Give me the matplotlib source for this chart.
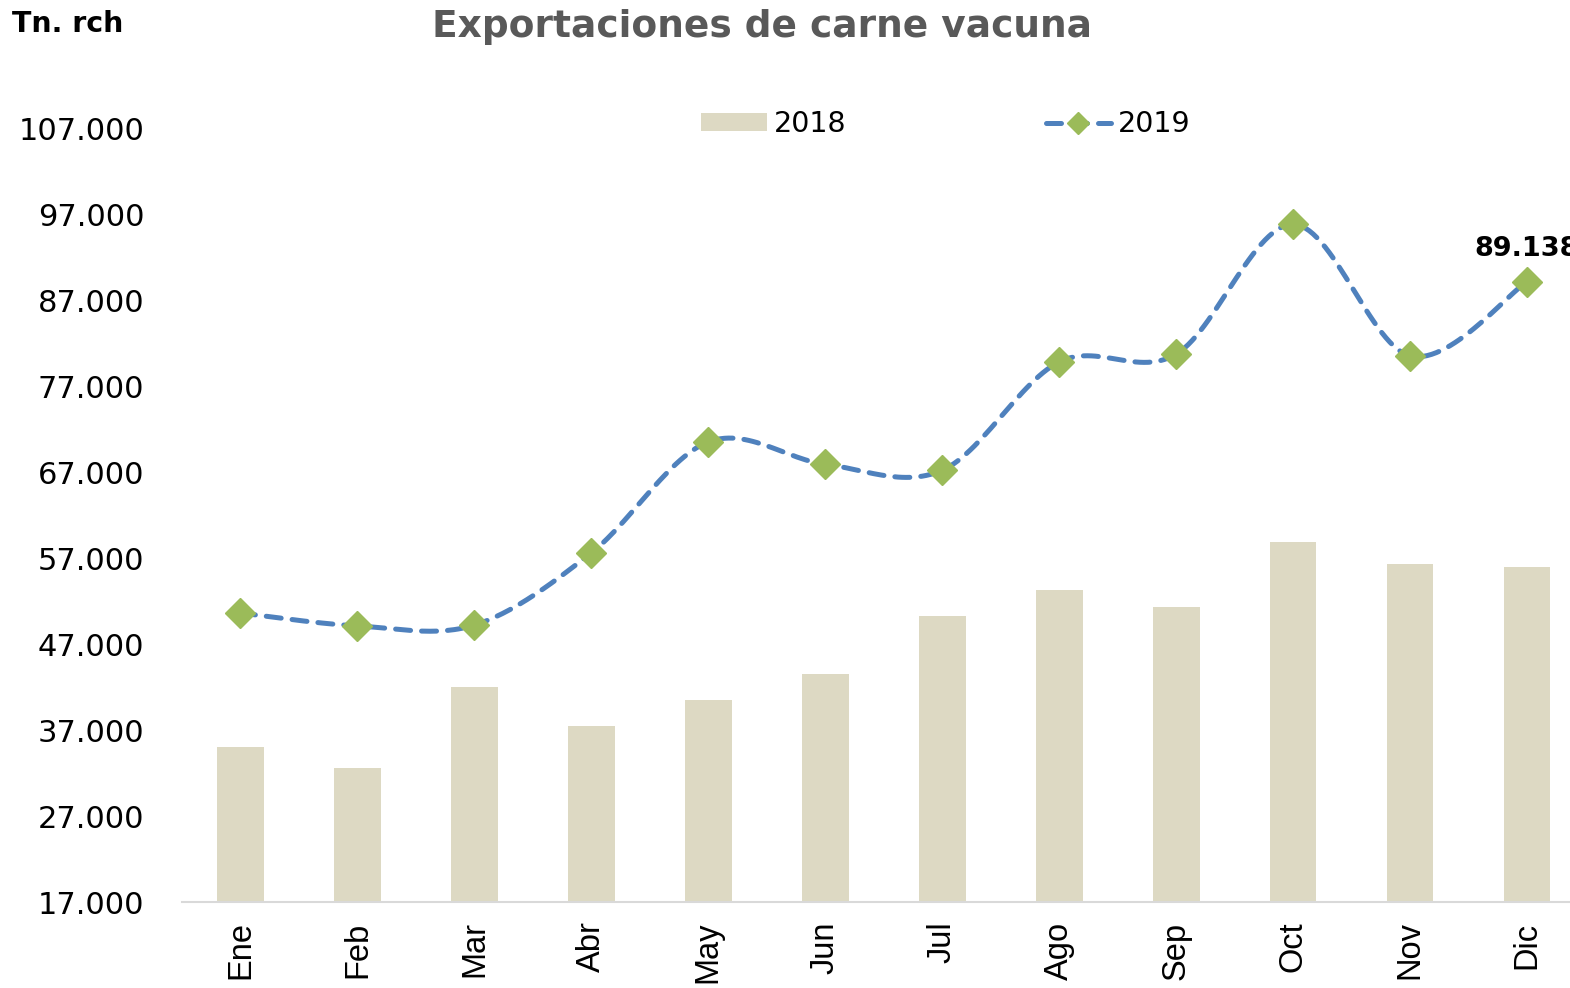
import numpy as np
import matplotlib
matplotlib.use("Agg")
import matplotlib.pyplot as plt
from matplotlib.patches import Patch
from matplotlib.lines import Line2D

# data (toneladas res con hueso)
months = ["Ene", "Feb", "Mar", "Abr", "May", "Jun", "Jul", "Ago", "Sep", "Oct", "Nov", "Dic"]
exp_2018 = [35000, 32600, 42000, 37500, 40500, 43500, 50300, 53300, 51300, 58900, 56300, 56000]
exp_2019 = [50600, 49100, 49200, 57600, 70500, 67900, 67200, 79800, 80700, 95800, 80500, 89138]
y_ticks = [17000, 27000, 37000, 47000, 57000, 67000, 77000, 87000, 97000, 107000]

BAR_COLOR = "#DDD9C3"
LINE_COLOR = "#4F81BD"
MARKER_COLOR = "#9BBB59"
FONT = "DejaVu Sans"


def smooth(xs, ys, n=30):
    """Excel-like smoothed line: cubic bezier with catmull-rom control points"""
    xs = np.asarray(xs, float)
    ys = np.asarray(ys, float)
    px = np.concatenate([[xs[0]], xs, [xs[-1]]])
    py = np.concatenate([[ys[0]], ys, [ys[-1]]])
    out_x, out_y = [], []
    t = np.linspace(0, 1, n)
    for i in range(1, len(px) - 2):
        p0x, p1x, p2x, p3x = px[i - 1], px[i], px[i + 1], px[i + 2]
        p0y, p1y, p2y, p3y = py[i - 1], py[i], py[i + 1], py[i + 2]
        c1x = p1x + (p2x - p0x) / 6
        c1y = p1y + (p2y - p0y) / 6
        c2x = p2x - (p3x - p1x) / 6
        c2y = p2y - (p3y - p1y) / 6
        bx = (1 - t) ** 3 * p1x + 3 * (1 - t) ** 2 * t * c1x + 3 * (1 - t) * t ** 2 * c2x + t ** 3 * p2x
        by = (1 - t) ** 3 * p1y + 3 * (1 - t) ** 2 * t * c1y + 3 * (1 - t) * t ** 2 * c2y + t ** 3 * p2y
        out_x.extend(bx)
        out_y.extend(by)
    return np.array(out_x), np.array(out_y)


fig = plt.figure(figsize=(15.7, 9.88), dpi=100)
fig.patch.set_facecolor("white")
ax = fig.add_axes([182 / 1570, 86 / 988, 1403.5 / 1570, 774 / 988])

x = np.arange(len(months))
ax.bar(x, exp_2018, width=0.4, color=BAR_COLOR, zorder=2)

sx, sy = smooth(x, exp_2019)
ax.plot(sx, sy, color=LINE_COLOR, lw=3.6, dashes=(3, 2.2),
        dash_capstyle="round", zorder=3)
ax.plot(x, exp_2019, linestyle="none", marker="D", ms=15,
        color=MARKER_COLOR, zorder=4)

ax.annotate("89.138", (x[-1], exp_2019[-1]), xytext=(0, 14), textcoords="offset points",
            ha="center", va="bottom", fontsize=19.5, fontweight="bold",
            family=FONT, color="black", annotation_clip=False)

ax.set_xlim(-0.5, len(months) - 0.5)
ax.set_ylim(17000, 107000)
ax.set_yticks(y_ticks)
ax.set_yticklabels([f"{v:,}".replace(",", ".") for v in y_ticks],
                   family=FONT, fontsize=22)
ax.set_xticks(x)
ax.set_xticklabels(months, rotation=90, family="Liberation Sans", fontsize=23.5)
ax.tick_params(axis="y", length=0, pad=27)
ax.tick_params(axis="x", length=0, pad=14)

for side in ["top", "right", "left"]:
    ax.spines[side].set_visible(False)
ax.spines["bottom"].set_color("#D9D9D9")
ax.spines["bottom"].set_linewidth(1.5)

handles = [
    Patch(facecolor=BAR_COLOR, edgecolor="none", label="2018"),
    Line2D([0], [0], color=LINE_COLOR, lw=3.6, dashes=(3, 2.2), dash_capstyle="round",
           marker="D", ms=11, markerfacecolor=MARKER_COLOR, markeredgecolor=MARKER_COLOR,
           label="2019"),
]
fig.legend(handles=handles, loc="center", bbox_to_anchor=(946 / 1570, 1 - 124 / 988),
           ncol=2, frameon=False, prop={"family": FONT, "size": 20.5},
           handlelength=2.3, handleheight=0.55, handletextpad=0.25, columnspacing=7.0)

fig.text(762 / 1570, 1 - 37 / 988, "Exportaciones de carne vacuna", ha="center", va="baseline",
         fontsize=27, fontweight="bold", family=FONT, color="#595959")
fig.text(12 / 1570, 1 - 32 / 988, "Tn. rch", ha="left", va="baseline",
         fontsize=20.5, fontweight="bold", family=FONT, color="black")

fig.savefig("out.png", dpi=100, facecolor="white")
